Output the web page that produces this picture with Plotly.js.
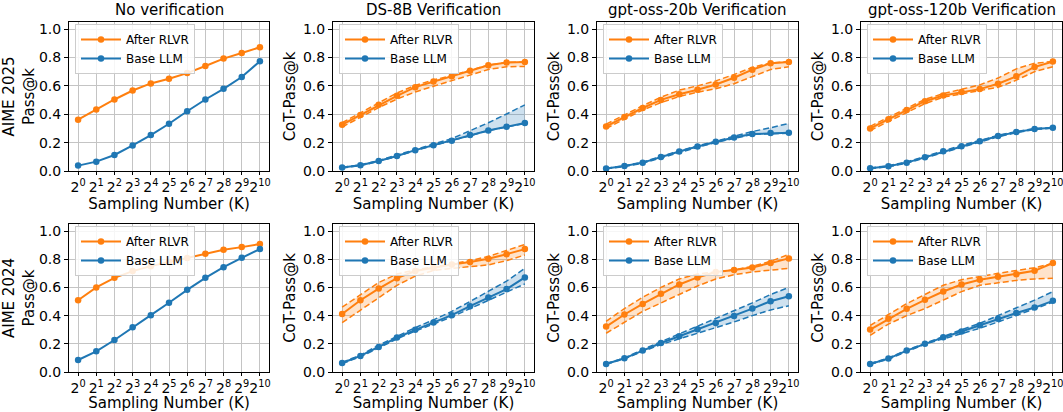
<!DOCTYPE html>
<html>
<head>
<meta charset="utf-8">
<script src="https://cdn.plot.ly/plotly-3.0.1.min.js"></script>
<style>html,body{margin:0;padding:0;background:#fff;}#chart{width:1063px;height:412px;}</style>
</head>
<body>
<div id="chart"></div>
<script>
// x positions: log2 of sampling number K
const logK = [0,1,2,3,4,5,6,7,8,9,10];
const tickLabels = ["2<sup>0</sup>","2<sup>1</sup>","2<sup>2</sup>","2<sup>3</sup>","2<sup>4</sup>","2<sup>5</sup>","2<sup>6</sup>","2<sup>7</sup>","2<sup>8</sup>","2<sup>9</sup>","2<sup>10</sup>"];
const colTitles = ["No verification","DS-8B Verification","gpt-oss-20b Verification","gpt-oss-120b Verification"];
const rowYTitles = ["AIME 2025<br>Pass@k","AIME 2024<br>Pass@k"];
const cotYTitle = "CoT-Pass@k";
const seriesNames = ["After RLVR","Base LLM"];

// ---- AIME 2025 ----
const r1_novf_rlvr = [0.362,0.433,0.504,0.567,0.617,0.650,0.690,0.740,0.792,0.832,0.872];
const r1_novf_base = [0.038,0.066,0.113,0.180,0.253,0.333,0.421,0.504,0.579,0.662,0.773];

const r1_ds8b_rlvr = [0.326,0.395,0.466,0.530,0.591,0.631,0.667,0.707,0.745,0.764,0.768];
const r1_ds8b_rlvr_hi = [0.340,0.410,0.480,0.550,0.603,0.642,0.672,0.712,0.747,0.765,0.768];
const r1_ds8b_rlvr_lo = [0.310,0.377,0.447,0.507,0.557,0.597,0.635,0.677,0.715,0.735,0.737];
const r1_ds8b_base = [0.024,0.040,0.071,0.106,0.147,0.182,0.213,0.253,0.286,0.312,0.338];
const r1_ds8b_base_hi = [0.026,0.043,0.074,0.111,0.152,0.190,0.228,0.282,0.340,0.402,0.466];
const r1_ds8b_base_lo = [0.021,0.038,0.068,0.103,0.144,0.179,0.210,0.250,0.284,0.310,0.335];

const r1_g20_rlvr = [0.314,0.381,0.444,0.501,0.541,0.572,0.610,0.657,0.714,0.759,0.768];
const r1_g20_rlvr_hi = [0.330,0.396,0.460,0.520,0.570,0.600,0.635,0.680,0.730,0.762,0.770];
const r1_g20_rlvr_lo = [0.300,0.365,0.430,0.482,0.525,0.555,0.580,0.615,0.665,0.715,0.735];
const r1_g20_base = [0.017,0.035,0.059,0.099,0.137,0.173,0.206,0.236,0.260,0.267,0.270];
const r1_g20_base_hi = [0.019,0.037,0.063,0.104,0.142,0.177,0.210,0.242,0.278,0.305,0.335];
const r1_g20_base_lo = [0.015,0.032,0.055,0.093,0.131,0.167,0.201,0.232,0.258,0.263,0.266];

const r1_g120_rlvr = [0.300,0.364,0.430,0.492,0.532,0.556,0.577,0.615,0.667,0.733,0.771];
const r1_g120_rlvr_hi = [0.315,0.380,0.445,0.505,0.545,0.577,0.607,0.655,0.720,0.760,0.771];
const r1_g120_rlvr_lo = [0.285,0.350,0.415,0.475,0.520,0.545,0.565,0.590,0.640,0.700,0.735];
const r1_g120_base = [0.019,0.033,0.059,0.097,0.139,0.175,0.210,0.246,0.274,0.296,0.305];
const r1_g120_base_hi = [0.022,0.037,0.064,0.103,0.145,0.181,0.215,0.251,0.278,0.299,0.307];
const r1_g120_base_lo = [0.016,0.030,0.055,0.092,0.133,0.169,0.205,0.241,0.270,0.293,0.302];

// ---- AIME 2024 ----
const r2_novf_rlvr = [0.509,0.600,0.668,0.716,0.751,0.780,0.808,0.839,0.867,0.886,0.908];
const r2_novf_base = [0.085,0.147,0.227,0.318,0.403,0.491,0.583,0.668,0.744,0.810,0.872];

const r2_ds8b_rlvr = [0.412,0.509,0.592,0.666,0.716,0.739,0.763,0.780,0.803,0.836,0.872];
const r2_ds8b_rlvr_hi = [0.460,0.550,0.635,0.695,0.725,0.745,0.765,0.790,0.820,0.860,0.905];
const r2_ds8b_rlvr_lo = [0.350,0.440,0.530,0.615,0.680,0.720,0.735,0.745,0.760,0.790,0.830];
const r2_ds8b_base = [0.064,0.114,0.178,0.244,0.299,0.351,0.403,0.467,0.528,0.588,0.671];
const r2_ds8b_base_hi = [0.068,0.120,0.190,0.255,0.315,0.370,0.430,0.500,0.570,0.645,0.735];
const r2_ds8b_base_lo = [0.060,0.108,0.170,0.235,0.290,0.340,0.390,0.450,0.510,0.565,0.625];

const r2_g20_rlvr = [0.322,0.408,0.483,0.555,0.621,0.671,0.709,0.723,0.742,0.773,0.806];
const r2_g20_rlvr_hi = [0.360,0.450,0.530,0.600,0.660,0.695,0.710,0.725,0.750,0.785,0.835];
const r2_g20_rlvr_lo = [0.275,0.355,0.430,0.490,0.550,0.610,0.660,0.690,0.710,0.725,0.735];
const r2_g20_base = [0.057,0.097,0.152,0.206,0.254,0.303,0.348,0.398,0.450,0.502,0.538];
const r2_g20_base_hi = [0.060,0.100,0.160,0.215,0.270,0.320,0.375,0.430,0.490,0.550,0.600];
const r2_g20_base_lo = [0.055,0.094,0.145,0.195,0.235,0.275,0.310,0.355,0.400,0.440,0.470];

const r2_g120_rlvr = [0.301,0.377,0.448,0.512,0.571,0.621,0.654,0.675,0.694,0.718,0.773];
const r2_g120_rlvr_hi = [0.330,0.410,0.485,0.550,0.615,0.655,0.680,0.700,0.720,0.740,0.770];
const r2_g120_rlvr_lo = [0.260,0.340,0.400,0.450,0.510,0.570,0.615,0.635,0.650,0.660,0.665];
const r2_g120_base = [0.057,0.095,0.152,0.201,0.246,0.287,0.332,0.377,0.419,0.457,0.505];
const r2_g120_base_hi = [0.060,0.100,0.155,0.205,0.255,0.300,0.345,0.400,0.450,0.510,0.570];
const r2_g120_base_lo = [0.055,0.090,0.145,0.198,0.235,0.270,0.310,0.355,0.400,0.445,0.495];

const ORANGE = "#ff7f0e", BLUE = "#1f77b4";
const ORANGE_FILL = "rgba(255,127,14,0.22)", BLUE_FILL = "rgba(31,119,180,0.22)";

const panels = [
  {rlvr:r1_novf_rlvr, base:r1_novf_base},
  {rlvr:r1_ds8b_rlvr, rlvrHi:r1_ds8b_rlvr_hi, rlvrLo:r1_ds8b_rlvr_lo, base:r1_ds8b_base, baseHi:r1_ds8b_base_hi, baseLo:r1_ds8b_base_lo},
  {rlvr:r1_g20_rlvr, rlvrHi:r1_g20_rlvr_hi, rlvrLo:r1_g20_rlvr_lo, base:r1_g20_base, baseHi:r1_g20_base_hi, baseLo:r1_g20_base_lo},
  {rlvr:r1_g120_rlvr, rlvrHi:r1_g120_rlvr_hi, rlvrLo:r1_g120_rlvr_lo, base:r1_g120_base, baseHi:r1_g120_base_hi, baseLo:r1_g120_base_lo},
  {rlvr:r2_novf_rlvr, base:r2_novf_base},
  {rlvr:r2_ds8b_rlvr, rlvrHi:r2_ds8b_rlvr_hi, rlvrLo:r2_ds8b_rlvr_lo, base:r2_ds8b_base, baseHi:r2_ds8b_base_hi, baseLo:r2_ds8b_base_lo},
  {rlvr:r2_g20_rlvr, rlvrHi:r2_g20_rlvr_hi, rlvrLo:r2_g20_rlvr_lo, base:r2_g20_base, baseHi:r2_g20_base_hi, baseLo:r2_g20_base_lo},
  {rlvr:r2_g120_rlvr, rlvrHi:r2_g120_rlvr_hi, rlvrLo:r2_g120_rlvr_lo, base:r2_g120_base, baseHi:r2_g120_base_hi, baseLo:r2_g120_base_lo},
];

const W = 1063, H = 412;
const colPx = [[69,269],[333,534],[597,798],[861,1062]];
const rowPx = [[22,171],[224,372]]; // top, bottom
const FONT = "DejaVu Sans, Liberation Sans, sans-serif";

const traces = [];
const layout = {
  width: W, height: H,
  margin: {l:0, r:0, t:0, b:0},
  paper_bgcolor: "#ffffff", plot_bgcolor: "#ffffff",
  font: {family: FONT, size: 14, color: "#000"},
  showlegend: true,
  annotations: []
};

panels.forEach((p, i) => {
  const row = Math.floor(i / 4), col = i % 4;
  const n = i + 1;
  const xa = n === 1 ? "x" : "x" + n;
  const ya = n === 1 ? "y" : "y" + n;
  const lg = n === 1 ? "legend" : "legend" + n;
  const xkey = n === 1 ? "xaxis" : "xaxis" + n;
  const ykey = n === 1 ? "yaxis" : "yaxis" + n;

  const groups = [
    {name: seriesNames[0], y: p.rlvr, hi: p.rlvrHi, lo: p.rlvrLo, c: ORANGE, f: ORANGE_FILL},
    {name: seriesNames[1], y: p.base, hi: p.baseHi, lo: p.baseLo, c: BLUE, f: BLUE_FILL},
  ];
  // bands first
  groups.forEach(g => {
    if (g.hi) {
      traces.push({x: logK, y: g.lo, xaxis: xa, yaxis: ya, mode: "lines", showlegend: false, hoverinfo: "skip",
        line: {color: g.c, width: 1.5, dash: "6px,3px"}});
      traces.push({x: logK, y: g.hi, xaxis: xa, yaxis: ya, mode: "lines", showlegend: false, hoverinfo: "skip",
        fill: "tonexty", fillcolor: g.f, line: {color: g.c, width: 1.5, dash: "6px,3px"}});
    }
  });
  groups.forEach(g => {
    traces.push({x: logK, y: g.y, xaxis: xa, yaxis: ya, name: g.name, legend: lg, mode: "lines+markers",
      line: {color: g.c, width: 2}, marker: {color: g.c, size: 6.5}});
  });

  const [x0, x1] = colPx[col];
  const [t, b] = rowPx[row];
  layout[xkey] = {
    domain: [x0 / W, x1 / W], anchor: ya, range: [-0.5, 10.5],
    tickmode: "array", tickvals: logK, ticktext: tickLabels, tickangle: 0,
    ticklabeloverflow: "allow",
    ticks: "outside", ticklen: 3, tickcolor: "#000", tickwidth: 1,
    showgrid: true, gridcolor: "#c4c4c4", gridwidth: 1,
    showline: true, linecolor: "#000", linewidth: 1, mirror: true, zeroline: false,
    tickfont: {size: 14, family: FONT, color: "#000"},
    title: {text: "Sampling Number (K)", font: {size: 15, family: FONT, color: "#000"}, standoff: 0},
    fixedrange: true
  };
  layout[ykey] = {
    domain: [1 - b / H, 1 - t / H], anchor: xa, range: [0, 1.05],
    tickmode: "array", tickvals: [0, 0.2, 0.4, 0.6, 0.8, 1.0], ticktext: ["0.0","0.2","0.4","0.6","0.8","1.0"],
    ticks: "outside", ticklen: 4, tickcolor: "#000", tickwidth: 1,
    showgrid: true, gridcolor: "#c4c4c4", gridwidth: 1,
    showline: true, linecolor: "#000", linewidth: 1, mirror: true, zeroline: false,
    tickfont: {size: 14, family: FONT, color: "#000"},
    title: {text: col === 0 ? rowYTitles[row] : cotYTitle, font: {size: 15, family: FONT, color: "#000"}, standoff: 3},
    fixedrange: true
  };
  layout[lg] = {
    x: (x0 + 6) / W, y: 1 - (t + 2) / H, xanchor: "left", yanchor: "top",
    traceorder: "normal",
    bgcolor: "rgba(255,255,255,0.85)", bordercolor: "#cccccc", borderwidth: 1,
    font: {size: 12, family: FONT, color: "#000"}, tracegroupgap: 0, itemwidth: 40
  };
  if (row === 0) {
    layout.annotations.push({
      text: colTitles[col], xref: "paper", yref: "paper",
      x: (x0 + x1) / 2 / W, y: 1 - t / H, xanchor: "center", yanchor: "bottom", yshift: 1,
      showarrow: false, font: {size: 15, family: FONT, color: "#000"}
    });
  }
});

Plotly.newPlot("chart", traces, layout, {displayModeBar: false, staticPlot: true});
</script>
</body>
</html>
